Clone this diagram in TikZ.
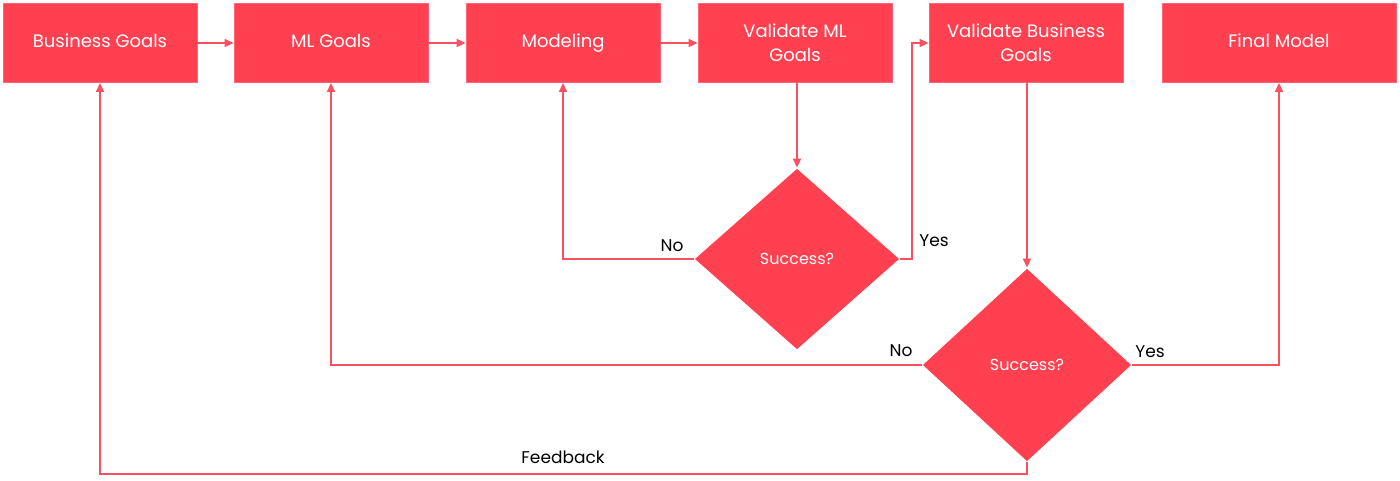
\documentclass[tikz,border=0pt]{standalone}
\usepackage{fontspec}
\setmainfont{Poppins}
\usetikzlibrary{shapes.geometric,arrows.meta}
\definecolor{flred}{RGB}{255,64,80}
\definecolor{flline}{RGB}{250,80,95}
\tikzset{
  box/.style={rectangle, fill=flred, draw=flred!80!white, line width=0.8pt, text=white,
    minimum width=194pt, minimum height=79pt, inner sep=2pt, align=center,
    font=\fontsize{18}{24}\selectfont},
  oneline/.style={text height=13pt, text depth=4pt},
  dia/.style={diamond, fill=flred, draw=white, line width=0.8pt, text=white, inner sep=0pt,
    font=\fontsize{16}{18}\selectfont},
  conn/.style={draw=flline, line width=1.4pt, -{Triangle[length=9pt,width=8pt]}},
  lbl/.style={text=black, inner sep=0pt, font=\fontsize{17}{19}\selectfont}
}
\begin{document}
\begin{tikzpicture}[x=1pt,y=-1pt]
\useasboundingbox (0,0) rectangle (1400,481);
\node[box, oneline] (bg) at (100,43) {Business Goals};
\node[box, oneline] (ml) at (331,43) {ML Goals};
\node[box, oneline] (mod) at (563,43) {Modeling};
\node[box] (vml) at (795,43) {Validate ML\\Goals};
\node[box] (vbg) at (1026,43) {Validate Business\\Goals};
\node[box, oneline, minimum width=234pt] (fm) at (1279,43) {Final Model};
\node[dia, minimum width=206pt, minimum height=182pt] (d1) at (797,259) {Success?};
\node[dia, minimum width=210pt, minimum height=194pt] (d2) at (1027,365) {Success?};
\coordinate (y1) at (912,259);
\coordinate (fb) at (1027,474);
\draw[conn] (bg) -- (ml);
\draw[conn] (ml) -- (mod);
\draw[conn] (mod) -- (vml);
\draw[conn] (vml.south -| d1.north) -- (d1.north);
\draw[conn] (d1.west) -| (mod.south);
\draw[conn] (d1.east) -- (y1) |- (vbg.west);
\draw[conn] (vbg.south -| d2.north) -- (d2.north);
\draw[conn] (d2.west) -| (ml.south);
\draw[conn] (d2.east) -| (fm.south);
\draw[conn] (d2.south) -- (fb) -| (bg.south);
\node[lbl] (no1) at (672,246) {No};
\node[lbl] (yes1) at (934,241) {Yes};
\node[lbl] (no2) at (901,351) {No};
\node[lbl] (yes2) at (1150,352) {Yes};
\node[lbl] (fbl) at (563,457) {Feedback};
\end{tikzpicture}
\end{document}
